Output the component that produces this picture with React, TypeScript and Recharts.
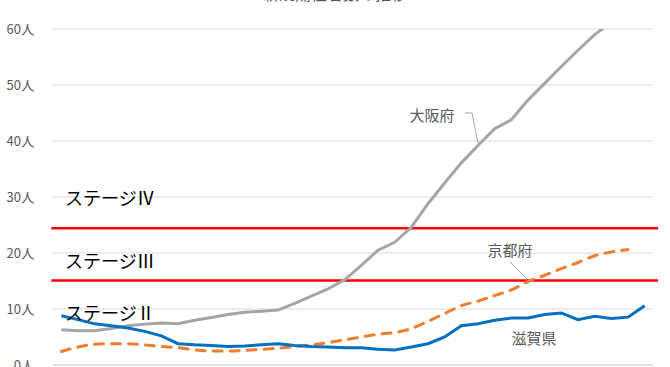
import React from 'react'
import {LineChart, Line, XAxis, YAxis, CartesianGrid, ReferenceLine, ReferenceDot} from 'recharts'

// per-day values (36 days)
const osaka = [6.3, 6.1, 6.1, 6.5, 7.0, 7.3, 7.5, 7.35, 8.0, 8.5, 9.0, 9.4, 9.6, 9.8, 11.0, 12.3, 13.6, 15.2,
  17.8, 20.5, 21.9, 24.6, 28.8, 32.5, 36.1, 39.2, 42.2, 43.8, 47.3, 50.3, 53.3, 56.2, 59.0, 61.2, null, null]
const kyoto = [2.4, 3.2, 3.7, 3.8, 3.8, 3.6, 3.3, 3.1, 2.7, 2.5, 2.5, 2.6, 2.8, 3.0, 3.3, 3.6, 4.0, 4.5,
  5.0, 5.5, 5.8, 6.5, 7.8, 9.2, 10.6, 11.4, 12.4, 13.4, 14.9, 16.0, 17.2, 18.3, 19.5, 20.2, 20.6, null]
const shiga = [8.8, 8.1, 7.35, 7.0, 6.6, 6.0, 5.2, 3.8, 3.6, 3.5, 3.3, 3.4, 3.6, 3.8, 3.5, 3.3, 3.2, 3.1,
  3.1, 2.8, 2.7, 3.2, 3.8, 5.0, 7.0, 7.35, 8.0, 8.4, 8.4, 9.0, 9.3, 8.1, 8.7, 8.3, 8.55, 10.6]

const yTicks = [0, 10, 20, 30, 40, 50, 60]
const xTicks = [0, 2, 4, 6, 8, 10, 12, 14, 16, 18, 20, 22, 24, 26, 28, 30, 32, 34, 36]
const stageLines = [24.4, 15.1]
const stageLabels = [
  {name: 'ステージⅣ', y: 30},
  {name: 'ステージⅢ', y: 18.8},
  {name: 'ステージⅡ', y: 9.55},
]

const data = shiga.map((v, i) => ({x: i + 0.5, osaka: osaka[i], kyoto: kyoto[i], shiga: v}))

const jp = '"Noto Sans CJK JP", "Noto Sans", sans-serif'

const textShape = (text: string, size: number, color: string, anchor: 'start' | 'middle' = 'middle') =>
  (p: any) => (
    <text x={p.cx} y={p.cy} textAnchor={anchor} dominantBaseline="central" fontSize={size} fill={color} fontFamily={jp}>
      {text}
    </text>
  )

const leader = {stroke: '#a6a6a6', strokeWidth: 1}

export default function App() {
  return (
    <div style={{position: 'absolute', left: 0, top: 0, width: 670, height: 367, overflow: 'hidden', background: '#fff'}}>
      <div style={{position: 'absolute', top: -19, left: 0, width: 670, textAlign: 'center', fontFamily: jp, fontSize: 16, color: '#595959'}}>
        新規陽性者数の推移
      </div>
      <LineChart width={670} height={400} data={data} margin={{top: 29, right: 17, bottom: 0, left: 0}}>
        <CartesianGrid vertical={false} stroke="#d9d9d9" strokeWidth={1.2} />
        <XAxis type="number" dataKey="x" domain={[0, 36]} ticks={xTicks} tick={false} height={35}
          tickSize={5} stroke="#d9d9d9" tickLine={{stroke: '#d9d9d9'}} axisLine={{stroke: '#d9d9d9'}} />
        <YAxis domain={[0, 60]} ticks={yTicks} allowDataOverflow width={53} axisLine={false} tickLine={false}
          tickSize={0} tickMargin={19} tickFormatter={(v: number) => `${v}人`}
          tick={{fill: '#595959', fontSize: 13, fontFamily: jp}} />
        {stageLines.map(v => (
          <ReferenceLine key={v} ifOverflow="visible" stroke="#ff0000" strokeWidth={2.5}
            segment={[{x: -0.1, y: v}, {x: 36.3, y: v}]} />
        ))}
        <Line dataKey="osaka" stroke="#a5a5a5" strokeWidth={3} dot={false} isAnimationActive={false} />
        <Line dataKey="kyoto" type="monotone" stroke="#ed7d31" strokeWidth={3} strokeDasharray="9 8"
          strokeLinecap="round" dot={false} isAnimationActive={false} />
        <Line dataKey="shiga" stroke="#0070c0" strokeWidth={3} dot={false} isAnimationActive={false} />
        <ReferenceLine ifOverflow="visible" {...leader} segment={[{x: 24.72, y: 45}, {x: 25.14, y: 45}]} />
        <ReferenceLine ifOverflow="visible" {...leader} segment={[{x: 25.14, y: 45}, {x: 25.5, y: 39.6}]} />
        <ReferenceLine ifOverflow="visible" {...leader} segment={[{x: 27.42, y: 18.4}, {x: 28.45, y: 15.3}]} />
        <ReferenceDot x={22.74} y={44.7} r={0} shape={textShape('大阪府', 15, '#595959')} />
        <ReferenceDot x={27.42} y={20.55} r={0} shape={textShape('京都府', 15, '#595959')} />
        <ReferenceDot x={28.86} y={5.0} r={0} shape={textShape('滋賀県', 15, '#595959')} />
        {stageLabels.map(s => (
          <ReferenceDot key={s.name} x={0.72} y={s.y} r={0} shape={textShape(s.name, 18, '#000', 'start')} />
        ))}
      </LineChart>
    </div>
  )
}
